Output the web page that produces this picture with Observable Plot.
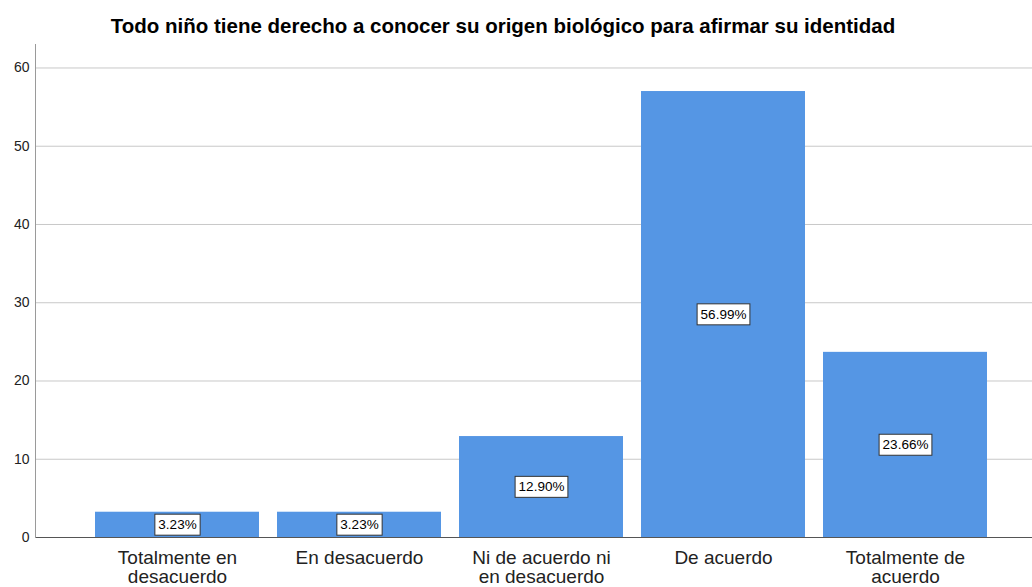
<!DOCTYPE html>
<html><head><meta charset="utf-8">
<script src="https://cdn.jsdelivr.net/npm/d3@7"></script>
<script src="https://cdn.jsdelivr.net/npm/@observablehq/plot@0.6"></script>
<style>
html,body{margin:0;padding:0;background:#fff;}
body{width:1032px;height:587px;overflow:hidden;font-family:"Liberation Sans",Arial,sans-serif;}
#title{box-sizing:border-box;height:44px;padding-top:14px;padding-right:26px;line-height:24px;text-align:center;font-weight:bold;font-size:20.5px;color:#000;white-space:nowrap;}
#chart svg{display:block;}
</style></head><body>
<div id="title"></div>
<div id="chart"></div>
<script>
const chartTitle = "Todo niño tiene derecho a conocer su origen biológico para afirmar su identidad";
const categories = ["Totalmente en desacuerdo","En desacuerdo","Ni de acuerdo ni en desacuerdo","De acuerdo","Totalmente de acuerdo"];
const tickLabels = ["Totalmente en\ndesacuerdo","En desacuerdo","Ni de acuerdo ni\nen desacuerdo","De acuerdo","Totalmente de\nacuerdo"];
const percents = [3.23, 3.23, 12.90, 56.99, 23.66];
const yTicks = [0, 10, 20, 30, 40, 50, 60];

document.getElementById("title").textContent = chartTitle;
const data = categories.map((c, i) => ({category: c, value: percents[i]}));
const labelOf = new Map(categories.map((c, i) => [c, tickLabels[i]]));

const chart = Plot.plot({
  width: 1032,
  height: 543,
  marginTop: 0,
  marginBottom: 50,
  marginLeft: 35,
  marginRight: 0,
  style: {fontFamily: "'Liberation Sans', Arial, sans-serif", color: "#222", background: "#fff"},
  x: {domain: categories, range: [86, 996], paddingInner: 0.1, paddingOuter: 0.05, label: null},
  y: {domain: [0, 63], label: null},
  marks: [
    Plot.ruleY(yTicks.filter(d => d > 0), {stroke: "#c8c8c8", strokeWidth: 1}),
    Plot.barY(data, {x: "category", y: "value", fill: "#5596e4"}),
    Plot.ruleY([0], {stroke: "#555", strokeWidth: 1}),
    Plot.frame({anchor: "left", stroke: "#9a9a9a"}),
    Plot.axisY(yTicks, {tickSize: 0, tickPadding: 6, fontSize: 14, fill: "#222"}),
    Plot.axisX({tickSize: 0, tickPadding: 13, fontSize: 19, lineHeight: 1, fill: "#222", tickFormat: d => labelOf.get(d)}),
    Plot.text(data, {x: "category", y: d => d.value / 2, text: d => d.value.toFixed(2) + "%", fontSize: 13.5, fill: "#000"})
  ]
});
document.getElementById("chart").appendChild(chart);

// white boxes behind the value labels
const svgNS = "http://www.w3.org/2000/svg";
chart.querySelectorAll('g[aria-label="text"] text').forEach(t => {
  const b = t.getBBox();
  const r = document.createElementNS(svgNS, "rect");
  r.setAttribute("x", b.x - 3.5);
  r.setAttribute("y", b.y - 3);
  r.setAttribute("width", b.width + 7);
  r.setAttribute("height", b.height + 6);
  r.setAttribute("fill", "#fff");
  r.setAttribute("stroke", "#333");
  r.setAttribute("stroke-width", 1);
  const tr = t.getAttribute("transform");
  if (tr) r.setAttribute("transform", tr);
  t.parentNode.insertBefore(r, t);
});
</script>
</body></html>
